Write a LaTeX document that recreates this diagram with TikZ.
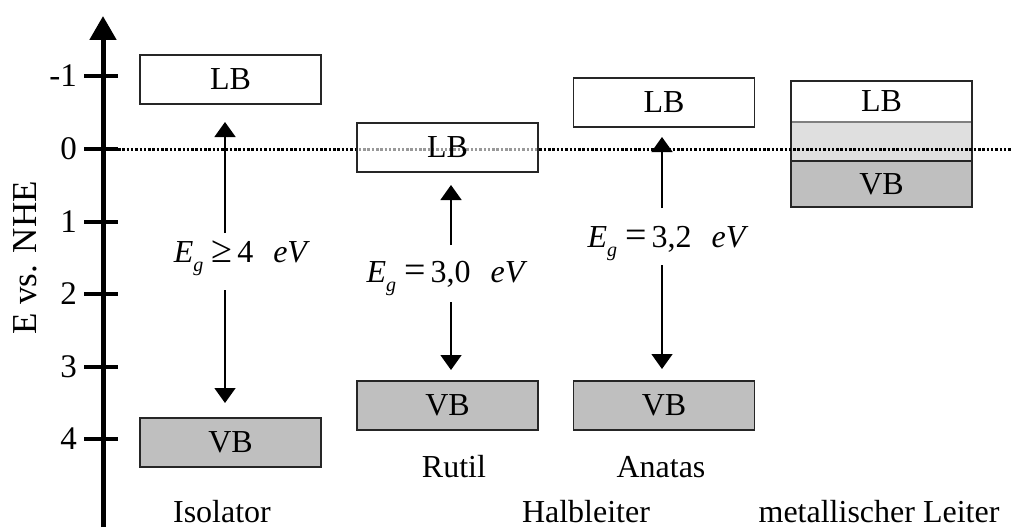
\documentclass[tikz,border=0pt]{standalone}
\usepackage{fontspec}
\setmainfont{Liberation Serif}
\usetikzlibrary{arrows.meta,positioning}
\tikzset{
    %Define style for band boxes
    lband/.style={
           rectangle,
           draw=black!85, line width=1.4pt,
           minimum width=181pt,
           minimum height=49pt,
           inner sep=0pt, outer sep=0pt,
           font=\fontsize{32}{36}\selectfont,
           text centered,
           fill=white},
    vband/.style={
           lband,
           fill=gray!50},
    % Define arrow style
    gaparrow/.style={
           -{Triangle[width=21pt,length=15pt]},
           line width=1.5pt},
    tickline/.style={line width=4pt},
    ticklabel/.style={anchor=east, inner sep=0pt, font=\fontsize{33}{36}\selectfont},
    eglabel/.style={anchor=base, inner sep=0pt, font=\fontsize{32}{36}\selectfont},
    caption/.style={anchor=base, inner sep=0pt, font=\fontsize{32}{36}\selectfont}
}
\newcommand\Eg{\textit{E}\raisebox{-9pt}{\fontsize{20}{22}\selectfont\textit{g}}}
\newcommand\rel[1]{{\fontsize{38}{40}\selectfont #1}}

\begin{document}
\begin{tikzpicture}[x=1pt,y=-1pt]
\useasboundingbox (0,0) rectangle (1011,527);

 %axis
\draw[line width=5pt,-{Triangle[width=26pt,length=24pt]}] (103,527) -- (103,16);
\foreach \v/\y in {-1/76,0/149,1/222,2/294,3/367,4/439}{
  \draw[tickline] (84,\y) -- (118,\y);
  \node[ticklabel] (t\v) at (77,\y) {\v};
}
\node[rotate=90, font=\fontsize{35}{40}\selectfont] (ylabel) at (25,258) {E vs. NHE};

 %metal
\node[lband, draw=none, minimum height=41pt] (metLB) at (881.5,101.5) {LB};
\node[lband, draw=none, fill=gray!25, minimum height=39pt, below=0pt of metLB] (metMid) {};
\node[vband, minimum height=46pt, below=0pt of metMid] (metVB) {VB};
\draw[gray, line width=1.2pt] (metLB.south west) -- (metLB.south east);
\draw[black!85, line width=1.4pt] (metLB.north west) rectangle (metVB.south east);

 %zero line
\coordinate (zl) at (118,149);
\coordinate (zr) at (1011,149);
\draw[line width=3pt, dash pattern=on 2.5pt off 1.8pt] (zl) -- (zr);

 %Isolator
\node[lband] (lb1) at (230.5,79.5) {LB};
\node[vband] (vb1) at (230.5,442.5) {VB};
\node[eglabel] (eg1) at (242,262) {\Eg\hspace{8pt}\rel{≥}\hspace{5pt}4\hspace{20pt}\textit{eV}};
\coordinate (u1) at (225,233);
\coordinate (d1) at (225,290);
\draw[gaparrow, shorten >=18pt] (u1) -- (lb1.south -| u1);
\draw[gaparrow, shorten >=15pt] (d1) -- (vb1.north -| d1);
\node[caption] (iso) at (222,522) {Isolator};

 %Rutil
\node[lband, fill opacity=0.6, text opacity=1] (lb2) at (447.5,147.5) {LB};
\node[vband] (vb2) at (447.5,405.5) {VB};
\node[eglabel] (eg2) at (447,282) {\Eg\hspace{8pt}\rel{=}\hspace{5pt}3,0\hspace{20pt}\textit{eV}};
\coordinate (u2) at (451,245);
\coordinate (d2) at (451,302);
\draw[gaparrow, shorten >=13pt] (u2) -- (lb2.south -| u2);
\draw[gaparrow, shorten >=11pt] (d2) -- (vb2.north -| d2);
\node[caption] (rut) at (454,477) {Rutil};

 %Anatas
\node[lband] (lb3) at (664,102.5) {LB};
\node[vband] (vb3) at (664,405.5) {VB};
\node[eglabel] (eg3) at (668,247) {\Eg\hspace{8pt}\rel{=}\hspace{5pt}3,2\hspace{20pt}\textit{eV}};
\coordinate (u3) at (662,208);
\coordinate (d3) at (662,265);
\draw[gaparrow, shorten >=10pt] (u3) -- (lb3.south -| u3);
\draw[gaparrow, shorten >=12pt] (d3) -- (vb3.north -| d3);
\node[caption] (ana) at (661,477) {Anatas};

 %group captions
\node[caption] (semi) at (586,522) {Halbleiter};
\node[caption] (metal) at (879,522) {metallischer Leiter};
\end{tikzpicture}
\end{document}
